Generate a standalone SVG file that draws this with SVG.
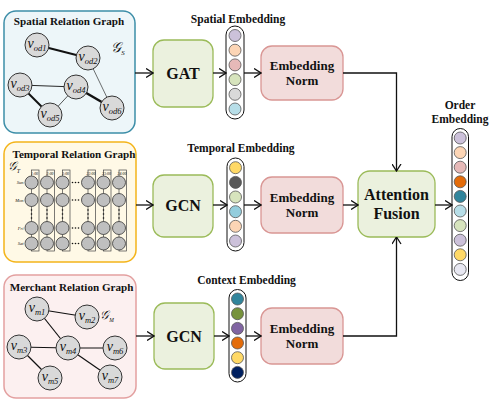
<svg xmlns="http://www.w3.org/2000/svg" width="498" height="404" viewBox="0 0 498 404">
<defs>
<style>
.title{font-family:"Liberation Serif",serif;font-weight:bold;font-size:11.1px;fill:#111;text-anchor:middle}
.lbl{font-family:"Liberation Serif",serif;font-weight:bold;font-size:11.5px;fill:#111;text-anchor:middle}
.big{font-family:"Liberation Serif",serif;font-weight:bold;font-size:16px;fill:#111;text-anchor:middle}
.mid{font-family:"Liberation Serif",serif;font-weight:bold;font-size:13px;fill:#111;text-anchor:middle}
.nl{font-family:"Liberation Serif",serif;font-style:italic;fill:#111;text-anchor:middle}
.gn{fill:#d9d9d9;stroke:#333;stroke-width:1}
.tn{fill:#bfbfbf;stroke:#333;stroke-width:0.8}
.e{stroke:#111;fill:none}
.green{fill:#ebf1de;stroke:#9bbb59;stroke-width:1.3}
.pink{fill:#f2dcdb;stroke:#d99694;stroke-width:1.3}
.pill{fill:#fff;stroke:#111;stroke-width:1}
.ec{stroke:#555;stroke-width:0.8}
.conn{stroke:#111;stroke-width:1.3;fill:none}
.tiny{font-family:"Liberation Serif",serif;font-style:italic;font-size:4.5px;fill:#111}
.dot{fill:#111}
</style>
<marker id="ah" markerUnits="userSpaceOnUse" viewBox="0 0 8 10" refX="7.5" refY="5" markerWidth="8" markerHeight="10" orient="auto">
<path d="M0.5,0.5 L7.5,5 L0.5,9.5" fill="none" stroke="#111" stroke-width="1.3"/>
</marker>
</defs>
<rect width="498" height="404" fill="#fff"/>

<g id="spatial-graph">
<rect x="4" y="11" width="131" height="122" rx="12" fill="#edf6f9" stroke="#3d8ea8" stroke-width="1.5"/>
<text class="title" x="69" y="24.5">Spatial Relation Graph</text>
<line class="e" x1="37" y1="45" x2="88" y2="58" stroke-width="2"/>
<line class="e" x1="88" y1="58" x2="112" y2="108" stroke-width="0.6"/>
<line class="e" x1="20" y1="85" x2="76" y2="87" stroke-width="0.9"/>
<line class="e" x1="20" y1="85" x2="50" y2="115" stroke-width="2"/>
<line class="e" x1="76" y1="87" x2="50" y2="115" stroke-width="0.7"/>
<line class="e" x1="76" y1="87" x2="112" y2="108" stroke-width="2.5"/>
<circle class="gn" cx="37" cy="45" r="12"/>
<circle class="gn" cx="88" cy="58" r="12"/>
<circle class="gn" cx="20" cy="85" r="12"/>
<circle class="gn" cx="76" cy="87" r="12"/>
<circle class="gn" cx="50" cy="115" r="12"/>
<circle class="gn" cx="112" cy="108" r="12"/>
<text class="nl" x="37" y="48"><tspan font-size="14">v</tspan><tspan font-size="8.5" dy="3">od1</tspan></text>
<text class="nl" x="88" y="61"><tspan font-size="14">v</tspan><tspan font-size="8.5" dy="3">od2</tspan></text>
<text class="nl" x="20" y="88"><tspan font-size="14">v</tspan><tspan font-size="8.5" dy="3">od3</tspan></text>
<text class="nl" x="76" y="90"><tspan font-size="14">v</tspan><tspan font-size="8.5" dy="3">od4</tspan></text>
<text class="nl" x="50" y="118"><tspan font-size="14">v</tspan><tspan font-size="8.5" dy="3">od5</tspan></text>
<text class="nl" x="112" y="111"><tspan font-size="14">v</tspan><tspan font-size="8.5" dy="3">od6</tspan></text>
<text class="nl" x="118" y="52"><tspan font-size="14">𝒢</tspan><tspan font-size="7" dy="3">S</tspan></text>
</g>

<g id="temporal-graph">
<rect x="4" y="142" width="132" height="120" rx="12" fill="#fff9e6" stroke="#f4b41a" stroke-width="1.5"/>
<text class="title" x="74" y="158">Temporal Relation Graph</text>
<text class="nl" x="14" y="170"><tspan font-size="12">𝒢</tspan><tspan font-size="6" dy="2.5">T</tspan></text>
<g fill="none" stroke="#444" stroke-width="0.7">
<rect x="31.5" y="170" width="7.5" height="81"/>
<rect x="47" y="170" width="7.5" height="81"/>
<rect x="62.5" y="170" width="7.5" height="81"/>
<rect x="88" y="170" width="7.5" height="81"/>
<rect x="103.5" y="170" width="7.5" height="81"/>
<rect x="119" y="170" width="7.5" height="81"/>
</g>
<g font-family="Liberation Serif, serif" font-style="italic" font-size="3.8" fill="#111" text-anchor="middle">
<text x="34.5" y="174.5">1:00</text><text x="50" y="174.5">2:00</text><text x="65.5" y="174.5">3:00</text>
<text x="91" y="174.5">22:00</text><text x="106.5" y="174.5">23:00</text><text x="122" y="174.5">24:00</text>
</g>
<g text-anchor="end">
<text class="tiny" x="23.5" y="184">Sun</text>
<text class="tiny" x="23.5" y="201.5">Mon</text>
<text class="tiny" x="23.5" y="229.5">Fri</text>
<text class="tiny" x="23.5" y="245">Sat</text>
</g>
<g>
<circle class="tn" cx="31.5" cy="182.5" r="6.5"/><circle class="tn" cx="47" cy="182.5" r="6.5"/><circle class="tn" cx="62.5" cy="182.5" r="6.5"/><circle class="tn" cx="88" cy="182.5" r="6.5"/><circle class="tn" cx="103.5" cy="182.5" r="6.5"/><circle class="tn" cx="119" cy="182.5" r="6.5"/>
<circle class="tn" cx="31.5" cy="200" r="6.5"/><circle class="tn" cx="47" cy="200" r="6.5"/><circle class="tn" cx="62.5" cy="200" r="6.5"/><circle class="tn" cx="88" cy="200" r="6.5"/><circle class="tn" cx="103.5" cy="200" r="6.5"/><circle class="tn" cx="119" cy="200" r="6.5"/>
<circle class="tn" cx="31.5" cy="228" r="6.5"/><circle class="tn" cx="47" cy="228" r="6.5"/><circle class="tn" cx="62.5" cy="228" r="6.5"/><circle class="tn" cx="88" cy="228" r="6.5"/><circle class="tn" cx="103.5" cy="228" r="6.5"/><circle class="tn" cx="119" cy="228" r="6.5"/>
<circle class="tn" cx="31.5" cy="243.5" r="6.5"/><circle class="tn" cx="47" cy="243.5" r="6.5"/><circle class="tn" cx="62.5" cy="243.5" r="6.5"/><circle class="tn" cx="88" cy="243.5" r="6.5"/><circle class="tn" cx="103.5" cy="243.5" r="6.5"/><circle class="tn" cx="119" cy="243.5" r="6.5"/>
</g>
<g class="dot">
<circle cx="72.5" cy="182.5" r="0.8"/><circle cx="75.5" cy="182.5" r="0.8"/><circle cx="78.5" cy="182.5" r="0.8"/>
<circle cx="72.5" cy="200" r="0.8"/><circle cx="75.5" cy="200" r="0.8"/><circle cx="78.5" cy="200" r="0.8"/>
<circle cx="72.5" cy="228" r="0.8"/><circle cx="75.5" cy="228" r="0.8"/><circle cx="78.5" cy="228" r="0.8"/>
<circle cx="72.5" cy="243.5" r="0.8"/><circle cx="75.5" cy="243.5" r="0.8"/><circle cx="78.5" cy="243.5" r="0.8"/>
<circle cx="31.5" cy="210" r="0.8"/><circle cx="31.5" cy="214" r="0.8"/><circle cx="31.5" cy="218" r="0.8"/>
<circle cx="47" cy="210" r="0.8"/><circle cx="47" cy="214" r="0.8"/><circle cx="47" cy="218" r="0.8"/>
<circle cx="62.5" cy="210" r="0.8"/><circle cx="62.5" cy="214" r="0.8"/><circle cx="62.5" cy="218" r="0.8"/>
<circle cx="88" cy="210" r="0.8"/><circle cx="88" cy="214" r="0.8"/><circle cx="88" cy="218" r="0.8"/>
<circle cx="103.5" cy="210" r="0.8"/><circle cx="103.5" cy="214" r="0.8"/><circle cx="103.5" cy="218" r="0.8"/>
<circle cx="119" cy="210" r="0.8"/><circle cx="119" cy="214" r="0.8"/><circle cx="119" cy="218" r="0.8"/>
</g>
</g>

<g id="merchant-graph">
<rect x="4" y="275" width="132" height="123" rx="12" fill="#fcf0f0" stroke="#e3a0a0" stroke-width="1.5"/>
<text class="title" x="71.5" y="290.5">Merchant Relation Graph</text>
<g class="e" stroke-width="1.2">
<line x1="37" y1="309" x2="87" y2="317"/>
<line x1="37" y1="309" x2="68" y2="348"/>
<line x1="19" y1="347" x2="68" y2="348"/>
<line x1="68" y1="348" x2="115" y2="348"/>
<line x1="19" y1="347" x2="50" y2="378"/>
<line x1="68" y1="348" x2="110" y2="377"/>
</g>
<circle class="gn" cx="37" cy="309" r="12"/>
<circle class="gn" cx="87" cy="317" r="12"/>
<circle class="gn" cx="19" cy="347" r="12"/>
<circle class="gn" cx="68" cy="348" r="12"/>
<circle class="gn" cx="115" cy="348" r="12"/>
<circle class="gn" cx="50" cy="378" r="12"/>
<circle class="gn" cx="110" cy="377" r="12"/>
<text class="nl" x="37" y="312"><tspan font-size="14">v</tspan><tspan font-size="8.5" dy="3">m1</tspan></text>
<text class="nl" x="87" y="320"><tspan font-size="14">v</tspan><tspan font-size="8.5" dy="3">m2</tspan></text>
<text class="nl" x="19" y="350"><tspan font-size="14">v</tspan><tspan font-size="8.5" dy="3">m3</tspan></text>
<text class="nl" x="68" y="351"><tspan font-size="14">v</tspan><tspan font-size="8.5" dy="3">m4</tspan></text>
<text class="nl" x="115" y="351"><tspan font-size="14">v</tspan><tspan font-size="8.5" dy="3">m6</tspan></text>
<text class="nl" x="50" y="381"><tspan font-size="14">v</tspan><tspan font-size="8.5" dy="3">m5</tspan></text>
<text class="nl" x="110" y="380"><tspan font-size="14">v</tspan><tspan font-size="8.5" dy="3">m7</tspan></text>
<text class="nl" x="107" y="319"><tspan font-size="12">𝒢</tspan><tspan font-size="5.5" dy="2.5">M</tspan></text>
</g>

<g id="gat">
<rect class="green" x="153" y="40" width="60" height="67" rx="11"/>
<text class="big" x="183" y="79">GAT</text>
</g>
<g id="gcn-temporal">
<rect class="green" x="153" y="175" width="60" height="62" rx="11"/>
<text class="big" x="183" y="210.5">GCN</text>
</g>
<g id="gcn-context">
<rect class="green" x="154" y="303" width="60" height="66" rx="11"/>
<text class="big" x="184" y="341.5">GCN</text>
</g>

<g id="spatial-embedding">
<text class="lbl" x="238" y="22.5">Spatial Embedding</text>
<rect class="pill" x="226" y="26" width="18" height="93" rx="9"/>
<circle class="ec" cx="235" cy="35.5" r="6" fill="#ccc1da"/>
<circle class="ec" cx="235" cy="50.2" r="6" fill="#fcd5b5"/>
<circle class="ec" cx="235" cy="64.9" r="6" fill="#e6b9b8"/>
<circle class="ec" cx="235" cy="79.6" r="6" fill="#d7e4bd"/>
<circle class="ec" cx="235" cy="94.3" r="6" fill="#d9d9d9"/>
<circle class="ec" cx="235" cy="109" r="6" fill="#b7dee8"/>
</g>
<g id="temporal-embedding">
<text class="lbl" x="241" y="151.5">Temporal Embedding</text>
<rect class="pill" x="227" y="158" width="17" height="93" rx="8.5"/>
<circle class="ec" cx="235.5" cy="167.7" r="6" fill="#ffd966"/>
<circle class="ec" cx="235.5" cy="182.4" r="6" fill="#595959"/>
<circle class="ec" cx="235.5" cy="197" r="6" fill="#d7e4bd"/>
<circle class="ec" cx="235.5" cy="211.7" r="6" fill="#93cddd"/>
<circle class="ec" cx="235.5" cy="226.3" r="6" fill="#fcd5b5"/>
<circle class="ec" cx="235.5" cy="241" r="6" fill="#ccc1da"/>
</g>
<g id="context-embedding">
<text class="lbl" x="246.5" y="284">Context Embedding</text>
<rect class="pill" x="229" y="289.5" width="17" height="92.5" rx="8.5"/>
<circle class="ec" cx="237.5" cy="299" r="6" fill="#31859c"/>
<circle class="ec" cx="237.5" cy="313.7" r="6" fill="#77933c"/>
<circle class="ec" cx="237.5" cy="328.4" r="6" fill="#8064a2"/>
<circle class="ec" cx="237.5" cy="343" r="6" fill="#e46c0a"/>
<circle class="ec" cx="237.5" cy="357.7" r="6" fill="#ffd966"/>
<circle class="ec" cx="237.5" cy="372.4" r="6" fill="#002060"/>
</g>

<g id="norm-spatial">
<rect class="pink" x="261" y="46" width="82" height="54" rx="11"/>
<text class="mid" x="302" y="70">Embedding</text>
<text class="mid" x="302" y="85">Norm</text>
</g>
<g id="norm-temporal">
<rect class="pink" x="261" y="177" width="82" height="56" rx="11"/>
<text class="mid" x="302" y="201.5">Embedding</text>
<text class="mid" x="302" y="216.5">Norm</text>
</g>
<g id="norm-context">
<rect class="pink" x="261" y="308" width="82" height="56" rx="11"/>
<text class="mid" x="302" y="333">Embedding</text>
<text class="mid" x="302" y="348">Norm</text>
</g>

<g id="attention-fusion">
<rect class="green" x="358" y="171" width="77" height="66" rx="12"/>
<text class="big" x="396.5" y="200">Attention</text>
<text class="big" x="396.5" y="219">Fusion</text>
</g>

<g id="order-embedding">
<text class="lbl" x="460" y="109">Order</text>
<text class="lbl" x="460" y="122.5">Embedding</text>
<rect class="pill" x="452" y="128.5" width="16.5" height="152" rx="8.25"/>
<circle class="ec" cx="460.2" cy="138" r="6" fill="#ccc1da"/>
<circle class="ec" cx="460.2" cy="152.6" r="6" fill="#fcd5b5"/>
<circle class="ec" cx="460.2" cy="167.2" r="6" fill="#e6b9b8"/>
<circle class="ec" cx="460.2" cy="181.8" r="6" fill="#e46c0a"/>
<circle class="ec" cx="460.2" cy="196.4" r="6" fill="#31859c"/>
<circle class="ec" cx="460.2" cy="211" r="6" fill="#b7dee8"/>
<circle class="ec" cx="460.2" cy="225.6" r="6" fill="#d7e4bd"/>
<circle class="ec" cx="460.2" cy="240.2" r="6" fill="#ccc1da"/>
<circle class="ec" cx="460.2" cy="254.8" r="6" fill="#ffd966"/>
<circle class="ec" cx="460.2" cy="269.4" r="6" fill="#e8e8f2"/>
</g>

<g id="connectors">
<line class="conn" x1="135" y1="73" x2="153" y2="73" marker-end="url(#ah)"/>
<line class="conn" x1="213" y1="73" x2="226" y2="73" marker-end="url(#ah)"/>
<line class="conn" x1="244" y1="73" x2="261" y2="73" marker-end="url(#ah)"/>
<path class="conn" d="M343,73 H396.5 V171" marker-end="url(#ah)"/>
<line class="conn" x1="136" y1="205" x2="153" y2="205" marker-end="url(#ah)"/>
<line class="conn" x1="213" y1="205" x2="227" y2="205" marker-end="url(#ah)"/>
<line class="conn" x1="244" y1="205" x2="261" y2="205" marker-end="url(#ah)"/>
<line class="conn" x1="343" y1="205" x2="358" y2="205" marker-end="url(#ah)"/>
<line class="conn" x1="136" y1="336" x2="154" y2="336" marker-end="url(#ah)"/>
<line class="conn" x1="214" y1="336" x2="229" y2="336" marker-end="url(#ah)"/>
<line class="conn" x1="246" y1="336" x2="261" y2="336" marker-end="url(#ah)"/>
<path class="conn" d="M343,336 H396.5 V237" marker-end="url(#ah)"/>
<line class="conn" x1="435" y1="205" x2="452" y2="205" marker-end="url(#ah)"/>
</g>
</svg>
